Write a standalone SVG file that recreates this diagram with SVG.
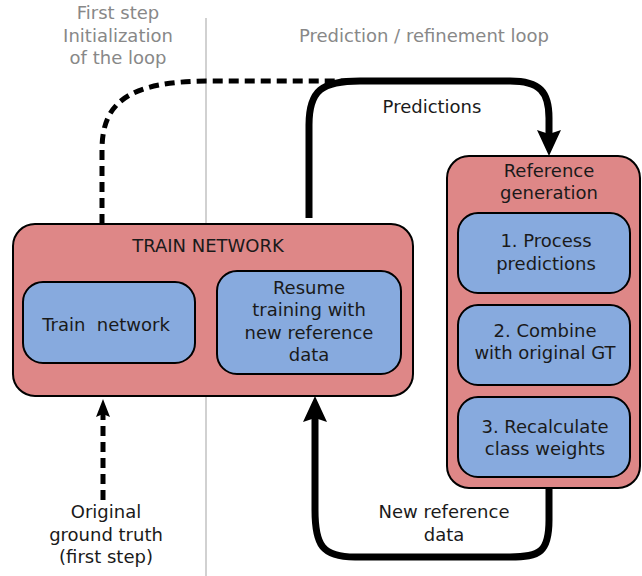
<svg xmlns="http://www.w3.org/2000/svg" width="642" height="576" viewBox="0 0 642 576">
<style>
text{font-family:"DejaVu Sans","Liberation Sans",sans-serif;font-size:18px;fill:#1a1a1a;text-anchor:middle}
.gray{fill:#888888}
.outer{fill:#de8787;stroke:#000;stroke-width:2}
.inner{fill:#87aade;stroke:#000;stroke-width:2}
.solid{fill:none;stroke:#000;stroke-width:7}
.dash{fill:none;stroke:#000;stroke-width:5;stroke-dasharray:10,6}
</style>
<defs>
<marker id="big" markerUnits="userSpaceOnUse" markerWidth="30" markerHeight="26" refX="4" refY="12" orient="auto" overflow="visible">
<path d="M0,0 L26,12 L0,24 L4,12 Z" fill="#000"/>
</marker>
<marker id="small" markerUnits="userSpaceOnUse" markerWidth="20" markerHeight="16" refX="3" refY="7" orient="auto" overflow="visible">
<path d="M0,0 L18,7 L0,14 L3,7 Z" fill="#000"/>
</marker>
</defs>
<rect width="642" height="576" fill="#fff"/>
<line x1="206" y1="18" x2="206" y2="576" stroke="#b3b3b3" stroke-width="1.2"/>
<g id="headers">
<text class="gray" x="118" y="19">First step</text>
<text class="gray" x="118" y="42">Initialization</text>
<text class="gray" x="118" y="64">of the loop</text>
<text class="gray" x="424" y="42">Prediction / refinement loop</text>
</g>
<g id="connectors">
<path class="dash" d="M102,224 L102,150 C102,104 126,81 210,81 L365,81"/>
<path class="solid" d="M309,218 L309,125 C309,90 322,81 360,81 L510,81 C540,81 549,92 549,118 L549,134" marker-end="url(#big)"/>
<path class="solid" d="M549,488 L549,520 C549,552 540,557 510,557 L355,557 C322,557 315,545 315,510 L315,418" marker-end="url(#big)"/>
<path class="dash" d="M103,500 L103,414" marker-end="url(#small)"/>
<text x="432" y="113">Predictions</text>
<text x="444" y="518">New reference</text>
<text x="444" y="541">data</text>
<text x="106" y="518">Original</text>
<text x="106" y="541">ground truth</text>
<text x="106" y="563">(first step)</text>
</g>
<g id="train-network">
<rect class="outer" x="13" y="224" width="400" height="172" rx="22"/>
<text x="208" y="252">TRAIN NETWORK</text>
</g>
<g id="train-net-inner">
<rect class="inner" x="23" y="282" width="172" height="81" rx="20"/>
<text x="106" y="331" xml:space="preserve">Train  network</text>
</g>
<g id="resume">
<rect class="inner" x="217" y="271" width="184" height="103" rx="20"/>
<text x="309" y="294">Resume</text>
<text x="309" y="316">training with</text>
<text x="309" y="339">new reference</text>
<text x="309" y="361">data</text>
</g>
<g id="reference-generation">
<rect class="outer" x="447" y="156" width="193" height="332" rx="22"/>
<text x="549" y="177">Reference</text>
<text x="549" y="199">generation</text>
</g>
<g id="process">
<rect class="inner" x="458" y="213" width="172" height="80" rx="20"/>
<text x="546" y="247">1. Process</text>
<text x="546" y="270">predictions</text>
</g>
<g id="combine">
<rect class="inner" x="458" y="305" width="172" height="80" rx="20"/>
<text x="545" y="337">2. Combine</text>
<text x="545" y="359">with original GT</text>
</g>
<g id="recalculate">
<rect class="inner" x="458" y="397" width="172" height="80" rx="20"/>
<text x="545" y="433">3. Recalculate</text>
<text x="545" y="455">class weights</text>
</g>
</svg>
